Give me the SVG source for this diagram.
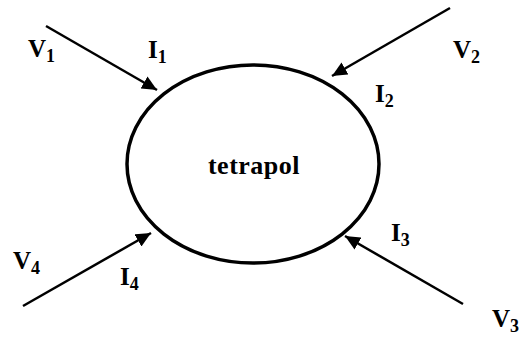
<svg xmlns="http://www.w3.org/2000/svg" width="520" height="337" viewBox="0 0 520 337">
<style>
.lbl{font-family:"Liberation Serif","Times New Roman",serif;font-weight:bold;font-size:25px;fill:#000}
.sub{font-size:18px}
.title{font-size:26px;letter-spacing:0.5px}
.conn{stroke:#000;stroke-width:2.5;fill:none;marker-end:url(#ah)}
.node{stroke:#000;stroke-width:3.5;fill:#fff}
</style>
<defs>
<marker id="ah" markerUnits="userSpaceOnUse" markerWidth="16" markerHeight="14" refX="15" refY="7" orient="auto">
<path d="M0,0 L15,7 L0,14 Z" fill="#000"/>
</marker>
</defs>
<g id="tetrapol">
<ellipse class="node" cx="253" cy="164" rx="126" ry="99"/>
<text class="lbl title" x="254" y="174" text-anchor="middle">tetrapol</text>
</g>
<g id="connectors">
<line class="conn" x1="46" y1="26" x2="157" y2="90"/>
<line class="conn" x1="450" y1="8" x2="332" y2="76"/>
<line class="conn" x1="463" y1="304" x2="345" y2="236"/>
<line class="conn" x1="23" y1="306" x2="151" y2="233"/>
</g>
<g id="labels">
<text class="lbl" x="28" y="57">V<tspan class="sub" dy="5">1</tspan></text>
<text class="lbl" x="148" y="58">I<tspan class="sub" dy="5">1</tspan></text>
<text class="lbl" x="453" y="58">V<tspan class="sub" dy="5">2</tspan></text>
<text class="lbl" x="375" y="102">I<tspan class="sub" dy="5">2</tspan></text>
<text class="lbl" x="391" y="241">I<tspan class="sub" dy="5">3</tspan></text>
<text class="lbl" x="492" y="327">V<tspan class="sub" dy="5">3</tspan></text>
<text class="lbl" x="13" y="269">V<tspan class="sub" dy="5">4</tspan></text>
<text class="lbl" x="120" y="285">I<tspan class="sub" dy="5">4</tspan></text>
</g>
</svg>
